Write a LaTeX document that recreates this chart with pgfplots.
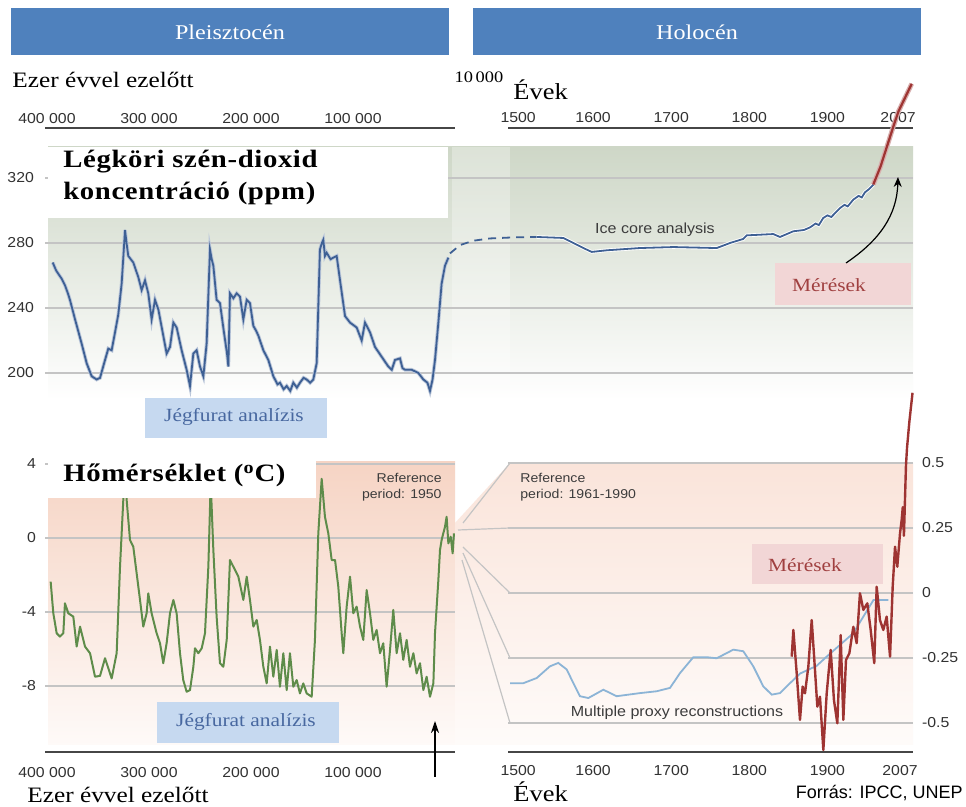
\documentclass[border=0pt]{standalone}
\usepackage{fontspec}
\setmainfont{Liberation Serif}[FakeStretch=1.15]
\setsansfont{Liberation Sans}[FakeStretch=1.1]
\newfontfamily\arialfont{Liberation Sans}
\newfontfamily\titlefont{Liberation Serif}[FakeStretch=1.15, LetterSpace=2.5]
\usepackage{pgfplots}
\pgfplotsset{compat=1.18}
\usepackage{pgfplotstable}
\usetikzlibrary{arrows.meta}

\definecolor{headerblue}{RGB}{79,129,189}
\definecolor{co2blue}{RGB}{62,96,148}
\definecolor{tempgreen}{RGB}{94,140,74}
\definecolor{measred}{RGB}{158,52,50}
\definecolor{proxyblue}{RGB}{140,180,214}
\definecolor{gridgray}{RGB}{196,196,196}
\definecolor{axisgray}{RGB}{70,70,70}
\definecolor{tickgray}{RGB}{50,50,50}
\definecolor{jegbox}{RGB}{198,217,240}
\definecolor{jegtext}{RGB}{72,104,160}
\definecolor{merbox}{RGB}{242,214,214}
\definecolor{mertext}{RGB}{160,64,64}
\definecolor{co2shade}{RGB}{206,215,199}
\definecolor{pinkA}{RGB}{246,212,196}
\definecolor{pinkB}{RGB}{250,228,218}
\definecolor{notegray}{RGB}{60,60,60}

% CO2, Pleistocene: age (ka BP), ppm
\pgfplotstableread{
age ppm
394.4 268
391.0 263
385.6 258
382.4 254
379.5 249
377.5 245
372.5 233
366.0 218
361.1 206
356.2 198
351.3 196
348.0 197
343.1 208
339.9 215
336.6 214
333.3 225
330.1 236
326.8 255
323.5 288
322.0 280
320.3 272
315.4 268
310.5 259
307.2 251
303.9 257
300.7 249
297.4 233
294.1 245
290.8 239
286.0 223
282.7 212
279.4 216
276.1 231
272.9 228
268.0 214
263.1 202
259.8 192
256.5 212
253.3 214
250.0 204
246.7 198
243.5 218
240.2 276
238.5 270
236.9 266
233.7 245
230.4 243
226.5 225
223.5 212
222.2 204
220.6 249
217.3 246
214.1 249
210.8 247
207.5 233
204.2 245
201.0 243
197.7 229
195.0 226
192.8 223
187.9 214
183.0 208
178.1 198
174.0 193
171.6 194
168.0 190
165.0 192
161.5 189
158.5 194
155.0 191
152.0 194
148.5 197
145.4 196
142.0 194
138.9 196
135.6 206
132.4 276
130.5 280
129.1 282
127.5 272
125.8 274
122.0 270
119.3 271
116.0 272
112.7 257
107.8 235
102.9 231
96.4 228
91.5 220
88.2 231
83.3 225
78.4 216
71.9 210
65.4 204
62.0 202
58.8 208
53.9 209
51.5 203
49.0 202
42.5 202
35.9 200
31.0 196
27.0 194
24.5 189
22.0 196
19.6 208
16.3 231
13.1 255
9.8 266
6.5 271
}\cotwoleft

% CO2 dashed connector (schematic years)
\pgfplotstableread{
yr ppm
1416.8 273.6
1429.6 278.7
1446.6 281.4
1468.0 282.8
1500.0 283.5
1527.8 283.7
}\cotwodash

% CO2 ice core, Holocene
\pgfplotstableread{
yr ppm
1527.8 283.7
1561.8 283.1
1574.6 280.0
1587.5 276.9
1598.2 274.5
1617.4 275.5
1660.0 276.9
1702.7 277.5
1758.3 276.9
1775.3 280.0
1792.3 282.5
1796.7 284.7
1830.7 285.5
1839.3 283.7
1856.3 287.2
1870.0 288.0
1877.7 289.6
1885.0 292.0
1889.0 291.0
1894.7 295.4
1900.0 297.0
1905.0 296.0
1916.1 301.5
1922.0 303.5
1926.0 302.5
1933.2 306.7
1940.0 309.0
1944.0 308.0
1948.1 311.2
1953.0 313.0
1958.8 315.9
}\cotwoice

% CO2 measurements
\pgfplotstableread{
yr ppm
1958.8 316
1968.0 327
1976.0 339
1984.0 351
1991.0 361
2000.0 370
2008.0 378
}\cotwomeas

% Temperature, Pleistocene: age (ka BP), deg C
\pgfplotstableread{
age t
396.4 -2.36
393.8 -4.07
390.5 -5.15
387.3 -5.33
384.0 -5.15
382.4 -3.53
379.1 -4.07
374.2 -4.25
370.9 -5.87
367.6 -4.79
362.7 -5.87
357.8 -6.23
352.9 -7.50
348.0 -7.45
343.1 -6.50
336.6 -7.59
331.7 -6.23
328.4 -1.55
325.2 2.05
323.5 3.50
321.9 2.05
318.6 -0.11
315.4 -0.47
312.1 -1.91
308.8 -3.35
305.6 -4.79
302.3 -4.07
300.7 -2.99
297.4 -4.07
292.5 -5.15
289.2 -5.69
286.0 -6.77
282.7 -5.69
279.4 -4.07
276.1 -3.35
272.9 -4.07
269.6 -6.23
266.4 -7.68
263.1 -8.31
259.8 -8.22
256.5 -6.96
254.9 -5.96
251.6 -6.23
248.3 -5.96
245.1 -5.15
241.8 -1.55
239.5 3.00
236.9 -0.65
233.7 -4.25
230.4 -6.77
227.1 -6.96
223.8 -5.51
220.6 -1.19
217.3 -1.55
212.4 -2.09
207.5 -3.35
204.2 -2.09
201.0 -3.35
197.7 -4.79
194.4 -4.43
191.2 -5.51
187.9 -6.96
184.6 -7.86
181.4 -5.87
178.1 -7.50
174.8 -6.05
171.6 -8.04
168.3 -6.23
165.0 -8.22
161.8 -6.23
158.5 -8.04
155.2 -7.68
152.0 -8.40
148.7 -7.86
145.4 -8.40
140.5 -8.58
137.3 -5.51
134.0 0.25
130.7 3.20
127.5 1.15
124.2 0.25
120.9 -1.19
117.6 -1.19
114.4 -2.63
111.1 -5.15
109.5 -6.23
106.2 -3.71
102.9 -2.09
99.7 -4.07
96.4 -3.71
93.1 -4.79
89.9 -5.51
86.6 -2.81
83.3 -4.07
80.1 -5.51
76.8 -4.97
73.5 -6.23
70.3 -5.69
67.0 -8.04
63.7 -6.05
60.5 -3.89
57.2 -6.23
53.9 -5.15
50.7 -6.59
47.4 -5.51
44.1 -6.96
40.8 -6.23
37.6 -7.32
34.3 -6.77
31.0 -8.22
27.8 -7.50
24.5 -8.58
21.2 -7.86
19.6 -5.15
16.3 -2.27
14.7 -0.65
13.1 -0.11
9.8 0.61
8.2 1.15
6.5 -0.29
4.2 0.07
2.3 -0.83
1.0 0.25
}\templeft

% Temperature, proxy reconstruction
\pgfplotstableread{
yr t
1493.6 -0.347
1510.6 -0.347
1527.8 -0.327
1544.8 -0.282
1555.4 -0.269
1566.2 -0.294
1574.6 -0.346
1583.2 -0.397
1593.9 -0.404
1613.1 -0.372
1630.2 -0.397
1660.1 -0.385
1681.4 -0.378
1698.5 -0.365
1711.3 -0.308
1728.3 -0.247
1745.4 -0.247
1758.3 -0.251
1779.5 -0.218
1792.3 -0.224
1805.1 -0.282
1817.9 -0.359
1828.7 -0.391
1839.3 -0.385
1852.1 -0.347
1864.9 -0.310
1886.3 -0.280
1899.0 -0.245
1933.0 -0.155
1946.0 -0.091
1959.0 -0.027
1978.0 -0.027
}\tempproxy

% Temperature, measurements
\pgfplotstableread{
yr t
1854.3 -0.245
1856.4 -0.142
1860.7 -0.309
1864.9 -0.488
1868.3 -0.360
1871.3 -0.386
1875.6 -0.283
1879.9 -0.104
1884.1 -0.296
1887.1 -0.437
1890.5 -0.399
1894.8 -0.604
1899.1 -0.386
1904.2 -0.219
1908.4 -0.412
1912.7 -0.501
1917.0 -0.162
1920.4 -0.488
1923.8 -0.258
1928.1 -0.232
1933.2 -0.130
1937.5 -0.193
1941.7 -0.001
1946.0 -0.065
1951.1 -0.040
1955.4 -0.142
1960.0 -0.270
1963.1 0.024
1967.3 -0.104
1971.6 -0.142
1975.9 -0.091
1980.2 -0.245
1983.6 0.024
1986.6 0.178
1989.5 0.101
1993.0 0.230
1995.1 0.281
1996.5 0.330
1998.0 0.220
2000.6 0.490
2002.0 0.560
2005.0 0.660
2009.0 0.770
}\tempmeas

\pgfplotsset{
  panel/.style={
    scale only axis, clip=false, anchor=north west,
    tick label style={font=\sffamily\fontsize{7.2}{8}\selectfont, text=tickgray},
    /pgf/number format/assume math mode=true,
    grid style={draw=gridgray, line width=0.6pt},
    major tick length=0pt, tick style={draw=none},
    x axis line style={draw=axisgray, line width=1.1pt, -},
    y axis line style={draw=none},
  },
}

\begin{document}
\begin{tikzpicture}
\useasboundingbox (0pt,0pt) rectangle (483pt,-403.5pt);
\begin{scope}[x=0.5pt, y=-0.5pt]
\fill[white] (0,0) rectangle (966,807);
% ---------- background shadings ----------
\shade[top color=co2shade, bottom color=white] (48,147) rectangle (913,400);
\fill[white, opacity=0.3] (452,147) rectangle (510,400);
\shade[top color=pinkA, bottom color=pinkA!12!white] (48,462) rectangle (455,745);
\shade[top color=pinkB, bottom color=pinkB!15!white] (455,523) -- (510,463) -- (913,463) -- (913,745) -- (455,745) -- cycle;
% grid extension between the two CO2 panels
\foreach \yy in {178,243,308,373} { \draw[gridgray, line width=0.6pt] (455,\yy) -- (508,\yy); }
% fan lines between temperature panels
\draw[gridgray, line width=0.6pt] (510,463) -- (463,523);
\draw[gridgray, line width=0.6pt] (510,528) -- (458,530);
\draw[gridgray, line width=0.6pt] (510,593) -- (463,547);
\draw[gridgray, line width=0.6pt] (510,658) -- (463,553);
\draw[gridgray, line width=0.6pt] (510,723) -- (462,560);
\end{scope}

% ---------- CO2, Pleistocene ----------
\begin{axis}[panel, at={(22.5pt,-64pt)}, width=205pt, height=136pt,
  xmin=0, xmax=401.96, x dir=reverse, ymin=183.38, ymax=350.77,
  axis x line*=top, axis y line*=left,
  xtick={100,200,300,400}, xticklabels={100 000,200 000,300 000,400 000},
  ytick={200,240,280,320}, yticklabels={200,240,280,320}, ymajorgrids,
  xticklabel style={yshift=-1.5pt}, yticklabel style={xshift=-2pt}]
\addplot[no marks, draw=co2blue!35!white, line width=1.8pt] table[x=age,y=ppm]{\cotwoleft};
\addplot[no marks, draw=co2blue, line width=0.9pt] table[x=age,y=ppm]{\cotwoleft};
\end{axis}

% ---------- CO2, Holocene ----------
\begin{axis}[panel, at={(254pt,-64pt)}, width=202.5pt, height=136pt,
  xmin=1491.04, xmax=2009.6, ymin=183.38, ymax=350.77,
  axis x line*=top, axis y line*=left,
  xtick={1504,1600,1700,1800,1900,1990.5}, xticklabels={1500,1600,1700,1800,1900,2007},
  ytick={200,240,280,320}, yticklabels={}, ymajorgrids,
  xticklabel style={yshift=-1pt}]
\addplot[no marks, draw=co2blue, line width=0.9pt, dash pattern=on 4pt off 3pt] table[x=yr,y=ppm]{\cotwodash};
\addplot[no marks, draw=white, line width=1.8pt] table[x=yr,y=ppm]{\cotwoice};
\addplot[no marks, draw=co2blue, line width=0.9pt] table[x=yr,y=ppm]{\cotwoice};
\addplot[no marks, draw=measred!40!white, line width=2.4pt] table[x=yr,y=ppm]{\cotwomeas};
\addplot[no marks, draw=measred, line width=1.1pt] table[x=yr,y=ppm]{\cotwomeas};
\end{axis}

% ---------- Temperature, Pleistocene ----------
\begin{axis}[panel, at={(22.5pt,-231pt)}, width=205pt, height=145pt,
  xmin=0, xmax=401.96, x dir=reverse, ymin=-11.568, ymax=4.108,
  axis x line*=bottom, axis y line*=left,
  xtick={100,200,300,400}, xticklabels={100 000,200 000,300 000,400 000},
  ytick={-8,-4,0,4}, yticklabels={-8,-4,0,4}, ymajorgrids,
  xticklabel style={yshift=-4pt}, yticklabel style={xshift=-1pt}]
\addplot[no marks, draw=tempgreen, line width=1.0pt, line join=round] table[x=age,y=t]{\templeft};
\end{axis}

% ---------- Temperature, Holocene ----------
\begin{axis}[panel, at={(254pt,-231pt)}, width=202.5pt, height=145pt,
  xmin=1491.04, xmax=2009.6, ymin=-0.6115, ymax=0.5038,
  axis x line*=bottom, axis y line*=right,
  xtick={1504,1600,1700,1800,1900,1993}, xticklabels={1500,1600,1700,1800,1900,2007},
  ytick={-0.5,-0.25,0,0.25,0.5}, yticklabels={-0.5,-0.25,0,0.25,0.5}, ymajorgrids,
  xticklabel style={yshift=-3pt}, yticklabel style={xshift=1pt}]
\addplot[no marks, draw=proxyblue, line width=0.9pt] table[x=yr,y=t]{\tempproxy};
\addplot[no marks, draw=measred, line width=1.2pt, line join=round] table[x=yr,y=t]{\tempmeas};
\end{axis}

% ---------- overlays ----------
\begin{scope}[x=0.5pt, y=-0.5pt]
\fill[headerblue] (11,8) rectangle (449,55);
\fill[headerblue] (473,8) rectangle (921,55);
\node[text=white, font=\fontsize{10.5}{12}\selectfont] at (230,32) {Pleisztocén};
\node[text=white, font=\fontsize{10.5}{12}\selectfont] at (697,32) {Holocén};

\node[anchor=base west, inner sep=0pt, font=\fontsize{11}{13}\selectfont] at (12,88) {Ezer évvel ezelőtt};
\node[anchor=base west, inner sep=0pt, font=\fontsize{11}{13}\selectfont] at (27,803) {Ezer évvel ezelőtt};
\node[font=\fontsize{8}{9}\selectfont] at (479,77) {10\,000};
\node[anchor=base west, inner sep=0pt, font=\fontsize{11.5}{13}\selectfont] at (513,100) {Évek};
\node[anchor=base west, inner sep=0pt, font=\fontsize{11.5}{13}\selectfont] at (513,802) {Évek};
\node[anchor=base east, inner sep=0pt, font=\arialfont\fontsize{9}{10}\selectfont] at (963,799) {Forrás: IPCC, UNEP};

% title boxes
\fill[white] (48,147) rectangle (448,218);
\node[anchor=base west, inner sep=0pt, font=\titlefont\bfseries\fontsize{12.5}{14}\selectfont] at (63,168) {Légköri szén-dioxid};
\node[anchor=base west, inner sep=0pt, font=\titlefont\bfseries\fontsize{12.5}{14}\selectfont] at (63,200) {koncentráció (ppm)};
\fill[white] (48,455) rectangle (316,498);
\node[anchor=base west, inner sep=0pt, font=\titlefont\bfseries\fontsize{12.5}{14}\selectfont] at (63,482) {Hőmérséklet (\textsuperscript{o}C)};

% Jégfurat boxes
\fill[jegbox] (145,398) rectangle (327,438);
\node[text=jegtext, font=\fontsize{9.3}{11}\selectfont] at (234,417) {Jégfurat analízis};
\fill[jegbox] (157,702) rectangle (339,743);
\node[text=jegtext, font=\fontsize{9.3}{11}\selectfont] at (246,722) {Jégfurat analízis};

% Mérések boxes
\fill[merbox] (775,263) rectangle (911,305);
\node[text=mertext, font=\fontsize{9.3}{11}\selectfont] at (829,285) {Mérések};
\fill[merbox] (752,544) rectangle (883,584);
\node[text=mertext, font=\fontsize{9.3}{11}\selectfont] at (805,565) {Mérések};

% notes
\node[text=notegray, font=\sffamily\fontsize{7.3}{8}\selectfont] at (655,230) {Ice core analysis};
\node[text=notegray, font=\sffamily\fontsize{7.3}{8}\selectfont] at (677,713) {Multiple proxy reconstructions};
\node[anchor=west, inner sep=0pt, text=notegray, font=\sffamily\fontsize{6.4}{7}\selectfont] at (520,478) {Reference};
\node[anchor=west, inner sep=0pt, text=notegray, font=\sffamily\fontsize{6.4}{7}\selectfont] at (520,495) {period: 1961-1990};
\node[anchor=east, inner sep=0pt, text=notegray, font=\sffamily\fontsize{6.4}{7}\selectfont] at (442,478) {Reference};
\node[anchor=east, inner sep=0pt, text=notegray, font=\sffamily\fontsize{6.4}{7}\selectfont] at (442,495) {period: 1950};

% arrows
\draw[black, line width=0.6pt, -{Stealth[length=5pt,width=4pt]}] (846,263) .. controls (880,240) and (897,215) .. (898,177);
\draw[black, line width=0.7pt, -{Stealth[length=6pt,width=4pt]}] (435,777) -- (435,721);
\end{scope}
\end{tikzpicture}
\end{document}
